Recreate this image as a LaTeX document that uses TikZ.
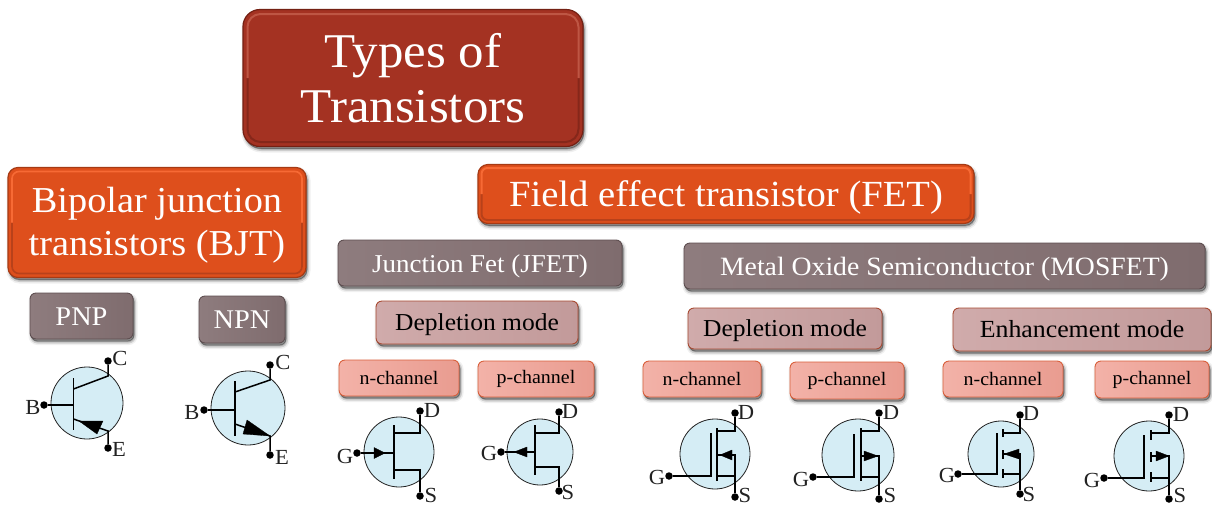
\documentclass[tikz,border=0pt]{standalone}
\usepackage{fontspec}
\setmainfont[FakeStretch=1.05]{Liberation Serif}
\usetikzlibrary{shadows,arrows.meta,calc}
\newcommand{\fs}[1]{\fontsize{#1}{#1}\selectfont}
\newcommand{\dn}[2]{\raisebox{-#1pt}[\height][\depth]{#2}}
\tikzset{
  softshade/.style={
    general shadow={shadow xshift=1.5pt,shadow yshift=-3pt,fill=black,draw=black,line width=6pt,opacity=.06},
    general shadow={shadow xshift=1.5pt,shadow yshift=-3pt,fill=black,draw=black,line width=3pt,opacity=.14},
    general shadow={shadow xshift=1pt,shadow yshift=-2pt,fill=black,draw=black,line width=.5pt,opacity=.28}},
  boxbase/.style={rounded corners=6pt,inner sep=0pt,outer sep=0pt,align=center,softshade},
  titlebox/.style={boxbase,rounded corners=17pt,fill=ttl,draw=ttlrim,line width=1.2pt,text=white,font=\fs{48.5}},
  orangebox/.style={boxbase,rounded corners=10pt,fill=org,draw=orgrim,line width=1.2pt,text=white,font=\fs{36.5}},
  greybox/.style={boxbase,left color=gryA,right color=gryB,draw=gryrim,line width=.9pt,text=white,font=\fs{25.7}},
  modebox/.style={boxbase,left color=modA,right color=modB,draw=modrim,line width=.9pt,text=black,font=\fs{24.3}},
  chanbox/.style={boxbase,left color=chA,right color=chB,draw=chrim,line width=.9pt,text=black,font=\fs{19}},
  bulb/.style={circle,fill=bulbfill,draw=symb,line width=.8pt,inner sep=0pt,outer sep=0pt},
  dotnode/.style={circle,fill=black,draw=none,minimum size=7.5pt,inner sep=0pt,outer sep=0pt},
  termlabel/.style={inner sep=0pt,outer sep=0pt,text=symb,font=\fs{21.5}},
  lead/.style={draw=black,line width=1.5pt,line cap=butt,line join=miter},
  tip/.style={fill=black,draw=black,line width=.3pt,line join=miter}
}
\definecolor{ttl}{HTML}{A43222}
\definecolor{ttlrim}{HTML}{742013}
\definecolor{ttlhi}{HTML}{BE5644}
\definecolor{ttllo}{HTML}{85271A}
\definecolor{org}{HTML}{DE4F1C}
\definecolor{orgrim}{HTML}{A63A14}
\definecolor{orghi}{HTML}{F76A35}
\definecolor{orglo}{HTML}{B8411A}
\definecolor{gryA}{HTML}{8E7C7E}
\definecolor{gryB}{HTML}{7F6C6E}
\definecolor{gryrim}{HTML}{5E4E50}
\definecolor{modA}{HTML}{D0ABAB}
\definecolor{modB}{HTML}{C29A9A}
\definecolor{modrim}{HTML}{A84A32}
\definecolor{chA}{HTML}{F3B2A8}
\definecolor{chB}{HTML}{E99C90}
\definecolor{chrim}{HTML}{D9603C}
\definecolor{bulbfill}{HTML}{D5EDF5}
\definecolor{symb}{HTML}{222222}
% \term{name}{dot x}{dot y}{label}{label x}{label y}
\newcommand{\term}[6]{\node[dotnode] (#1) at (#2,#3) {};\node[termlabel] (#1l) at (#5,#6) {#4};}
% \bevel{node}{inset}{radius}{width}{top colour}{bottom colour}
\newcommand{\bevel}[6]{%
  \draw[#6,line width=#4pt,rounded corners=#3pt] ($(#1.west)+(#2,0)$) |- ($(#1.south)+(0,-#2)$) -| ($(#1.east)+(-#2,0)$);
  \draw[#5,line width=#4pt,rounded corners=#3pt] ($(#1.west)+(#2,0)$) |- ($(#1.north)+(0,#2)$) -| ($(#1.east)+(-#2,0)$);}
\begin{document}
\begin{tikzpicture}[x=1pt,y=-1pt]
\useasboundingbox (0,0) rectangle (1212,504);
\fill[white] (0,0) rectangle (1212,504);

% ---------- boxes ----------
\node[titlebox,minimum width=340pt,minimum height=137pt] (title) at (413,78) {Types of\\[6pt]Transistors};
\node[orangebox,minimum width=298pt,minimum height=110pt] (bjt) at (157,222.5) {\dn{2.5}{Bipolar junction}\\[6pt]\dn{2.5}{transistors (BJT)}};
\node[orangebox,font=\fs{36.8},minimum width=496pt,minimum height=59pt] (fet) at (726,194) {\dn{3.5}{Field effect transistor (FET)}};
\node[greybox,minimum width=284pt,minimum height=46pt] (jfet) at (480,263) {\dn{3.5}{Junction Fet (JFET)}};
\node[greybox,font=\fs{26.4},minimum width=521pt,minimum height=46pt] (mosfet) at (944.5,266) {\dn{3}{Metal Oxide Semiconductor (MOSFET)}};
\node[greybox,font=\fs{27},minimum width=103pt,minimum height=46pt] (pnp) at (81.5,316) {\dn{1}{PNP}};
\node[greybox,font=\fs{27},minimum width=86pt,minimum height=47pt] (npn) at (242,319.5) {NPN};
\node[modebox,minimum width=202pt,minimum height=43pt] (depa) at (477,322.5) {\dn{2}{Depletion mode}};
\node[modebox,minimum width=194pt,minimum height=41pt] (depb) at (785,328.5) {\dn{2}{Depletion mode}};
\node[modebox,font=\fs{24.6},minimum width=258pt,minimum height=43pt] (enh) at (1082,329.5) {Enhancement mode};
\node[chanbox,minimum width=120pt,minimum height=36pt] (na) at (399,378) {n-channel};
\node[chanbox,minimum width=116pt,minimum height=36pt] (pa) at (536,379) {p-channel};
\node[chanbox,minimum width=118pt,minimum height=36pt] (nb) at (702,379) {n-channel};
\node[chanbox,minimum width=114pt,minimum height=37pt] (pb) at (847,380.5) {p-channel};
\node[chanbox,minimum width=120pt,minimum height=36pt] (nc) at (1003,379) {n-channel};
\node[chanbox,minimum width=114pt,minimum height=37pt] (pc) at (1152,379.5) {p-channel};

% bevels
\bevel{title}{4.5}{13}{2}{ttlhi}{ttllo}
\bevel{bjt}{4}{7}{1.6}{orghi}{orglo}
\bevel{fet}{3.5}{6}{2}{orghi}{orglo}

% ---------- PNP ----------
\node[bulb,minimum size=72pt] (q1) at (87,403) {};
\term{q1C}{108}{361}{C}{120}{358}
\term{q1E}{108}{448}{E}{119}{449}
\term{q1B}{44}{405}{B}{33}{407}
\draw[lead] (q1B) -- (73.5,405);
\draw[lead] (73.5,378) -- (73.5,430);
\draw[lead] (q1C) -- (108,376) -- (73.5,389);
\draw[lead] (q1E) -- (108,431) -- (73.5,419);
\fill[tip] (79,421) -- (103,421) -- (97,434) -- cycle;

% ---------- NPN ----------
\node[bulb,minimum size=74pt] (q2) at (248,408) {};
\term{q2C}{270}{365}{C}{283}{362}
\term{q2E}{270}{455}{E}{282}{457}
\term{q2B}{204}{410}{B}{192}{412}
\draw[lead] (q2B) -- (235,410);
\draw[lead] (235,381) -- (235,436);
\draw[lead] (q2C) -- (270,380) -- (235,392);
\draw[lead] (q2E) -- (270,436) -- (235,424);
\fill[tip] (270,436) -- (247,420) -- (243,434) -- cycle;

% ---------- JFET n ----------
\node[bulb,minimum size=70pt] (j1) at (399,452) {};
\term{j1D}{420}{411}{D}{432}{410}
\term{j1S}{420}{496}{S}{431}{495}
\term{j1G}{357}{453}{G}{345}{456}
\draw[lead] (394,425) -- (394,479);
\draw[lead] (j1D) -- (420,433) -- (394,433);
\draw[lead] (j1S) -- (420,470) -- (394,470);
\draw[lead] (j1G) -- (394,453);
\fill[tip] (385,453) -- (374,447.5) -- (374,458.5) -- cycle;

% ---------- JFET p ----------
\node[bulb,minimum size=66pt] (j2) at (540,452) {};
\term{j2D}{559}{412}{D}{570}{411}
\term{j2S}{559}{491}{S}{568}{492}
\term{j2G}{501}{452}{G}{489}{453}
\draw[lead] (535,425) -- (535,475);
\draw[lead] (j2D) -- (559,433) -- (535,433);
\draw[lead] (j2S) -- (559,467) -- (535,467);
\draw[lead] (j2G) -- (535,452);
\fill[tip] (514,452) -- (527,447) -- (527,457) -- cycle;

% ---------- MOS depletion n ----------
\node[bulb,minimum size=70pt] (m1) at (715,454) {};
\term{m1D}{735}{413}{D}{746}{412}
\term{m1S}{735}{497}{S}{745}{495}
\term{m1G}{669}{476}{G}{657}{477}
\draw[lead] (m1G) -- (711,476) -- (711,433);
\draw[lead] (717,428) -- (717,481);
\draw[lead] (m1D) -- (735,431) -- (717,431);
\draw[lead] (m1S) -- (735,455) -- (717,455);
\draw[lead] (735,476) -- (717,476);
\fill[tip] (720,455) -- (732,450) -- (732,460) -- cycle;

% ---------- MOS depletion p ----------
\node[bulb,minimum size=72pt] (m2) at (858,455) {};
\term{m2D}{879}{413}{D}{891}{412}
\term{m2S}{879}{499}{S}{890}{495}
\term{m2G}{813}{477}{G}{801}{479}
\draw[lead] (m2G) -- (854,477) -- (854,434);
\draw[lead] (861,428) -- (861,481);
\draw[lead] (m2D) -- (879,431) -- (861,431);
\draw[lead] (m2S) -- (879,456) -- (861,456);
\draw[lead] (879,477) -- (861,477);
\fill[tip] (878,456) -- (864,451) -- (864,461) -- cycle;

% ---------- MOS enhancement n ----------
\node[bulb,minimum size=66pt] (m3) at (1001,454) {};
\term{m3D}{1020}{415}{D}{1031}{413}
\term{m3S}{1020}{494}{S}{1029}{494}
\term{m3G}{958}{474}{G}{947}{475}
\draw[lead] (m3G) -- (997,474) -- (997,433);
\draw[lead] (1003,429) -- (1003,437);
\draw[lead] (1003,450) -- (1003,459);
\draw[lead] (1003,469) -- (1003,478);
\draw[lead] (m3D) -- (1020,433) -- (1003,433);
\draw[lead] (m3S) -- (1020,454) -- (1003,454);
\draw[lead] (1020,474) -- (1003,474);
\fill[tip] (1004,454) -- (1019,449) -- (1019,459) -- cycle;

% ---------- MOS enhancement p ----------
\node[bulb,minimum size=70pt] (m4) at (1149,456) {};
\term{m4D}{1169}{415}{D}{1181}{414}
\term{m4S}{1169}{499}{S}{1180}{495}
\term{m4G}{1104}{478}{G}{1092}{480}
\draw[lead] (m4G) -- (1144,478) -- (1144,435);
\draw[lead] (1151,430) -- (1151,440);
\draw[lead] (1151,452) -- (1151,462);
\draw[lead] (1151,472) -- (1151,482);
\draw[lead] (m4D) -- (1169,433) -- (1151,433);
\draw[lead] (m4S) -- (1169,456) -- (1151,456);
\draw[lead] (1169,478) -- (1151,478);
\fill[tip] (1169,456) -- (1156,451) -- (1156,461) -- cycle;
\end{tikzpicture}
\end{document}
